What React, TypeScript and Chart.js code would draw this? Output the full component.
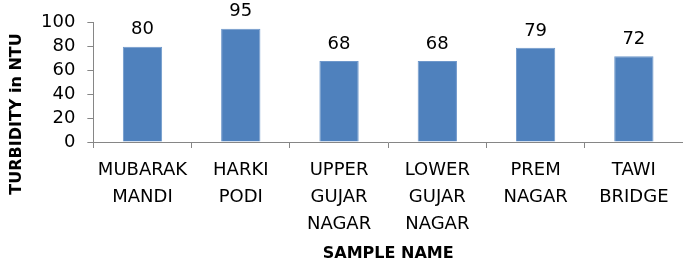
import React, { useEffect, useRef } from "react";
import { Chart, registerables } from "chart.js";

Chart.register(...registerables);

const categories: string[][] = [
  ["MUBARAK", "MANDI"],
  ["HARKI", "PODI"],
  ["UPPER", "GUJAR", "NAGAR"],
  ["LOWER", "GUJAR", "NAGAR"],
  ["PREM", "NAGAR"],
  ["TAWI", "BRIDGE"],
];
const turbidity: number[] = [80, 95, 68, 68, 79, 72];
const yTicks: number[] = [0, 20, 40, 60, 80, 100];
const yTitle = "TURBIDITY in NTU";
const xTitle = "SAMPLE NAME";

const FONT = "'DejaVu Sans', sans-serif";

const valueLabels = {
  id: "valueLabels",
  afterDatasetsDraw(chart: any) {
    const ctx = chart.ctx;
    const meta = chart.getDatasetMeta(0);
    ctx.save();
    ctx.font = `18px ${FONT}`;
    ctx.fillStyle = "#000";
    ctx.textAlign = "center";
    ctx.textBaseline = "bottom";
    meta.data.forEach((bar: any, i: number) => {
      ctx.fillText(String(turbidity[i]), bar.x, bar.y - 8);
    });
    ctx.restore();
  },
};

const yTitlePlugin = {
  id: "yTitlePlugin",
  afterDraw(chart: any) {
    const ctx = chart.ctx;
    ctx.save();
    ctx.font = `bold 16px ${FONT}`;
    ctx.fillStyle = "#000";
    ctx.textAlign = "center";
    ctx.textBaseline = "middle";
    ctx.translate(17, chart.height * 0.435);
    ctx.rotate(-Math.PI / 2);
    ctx.fillText(yTitle, 0, 0);
    ctx.restore();
  },
};

export default function App() {
  const ref = useRef<HTMLCanvasElement | null>(null);
  useEffect(() => {
    if (!ref.current) return;
    const chart = new Chart(ref.current, {
      type: "bar",
      data: {
        labels: categories,
        datasets: [
          {
            data: turbidity,
            backgroundColor: "#4F81BD",
            borderColor: "#6F98CB",
            borderWidth: 1,
            categoryPercentage: 1,
            barPercentage: 0.4,
          },
        ],
      },
      options: {
        animation: false,
        responsive: false,
        layout: { padding: { left: 29, top: 22, right: 0, bottom: 0 } },
        plugins: { legend: { display: false }, tooltip: { enabled: false } },
        scales: {
          x: {
            grid: {
              display: true,
              drawOnChartArea: false,
              offset: true,
              color: "#868686",
              tickLength: 6,
            },
            border: { color: "#868686", width: 1 },
            ticks: {
              color: "#000",
              font: { family: FONT, size: 18, lineHeight: "27px" },
              padding: 9,
              maxRotation: 0,
              autoSkip: false,
            },
            title: {
              display: true,
              text: xTitle,
              color: "#000",
              font: { family: FONT, size: 16, weight: "bold", lineHeight: 1 },
              padding: { top: 6, bottom: 0 },
            },
          },
          y: {
            min: 0,
            max: 100,
            afterBuildTicks(axis: any) {
              axis.ticks = yTicks.map((v) => ({ value: v }));
            },
            grid: {
              display: true,
              drawOnChartArea: false,
              color: "#868686",
              tickLength: 6,
            },
            border: { color: "#868686", width: 1 },
            ticks: {
              color: "#000",
              font: { family: FONT, size: 18 },
              padding: 12,
              autoSkip: false,
            },
          },
        },
      },
      plugins: [valueLabels, yTitlePlugin],
    });
    return () => chart.destroy();
  }, []);
  return (
    <div style={{ position: "fixed", left: 0, top: 0, width: 683, height: 262, background: "#fff" }}>
      <canvas ref={ref} width={683} height={262} />
    </div>
  );
}
